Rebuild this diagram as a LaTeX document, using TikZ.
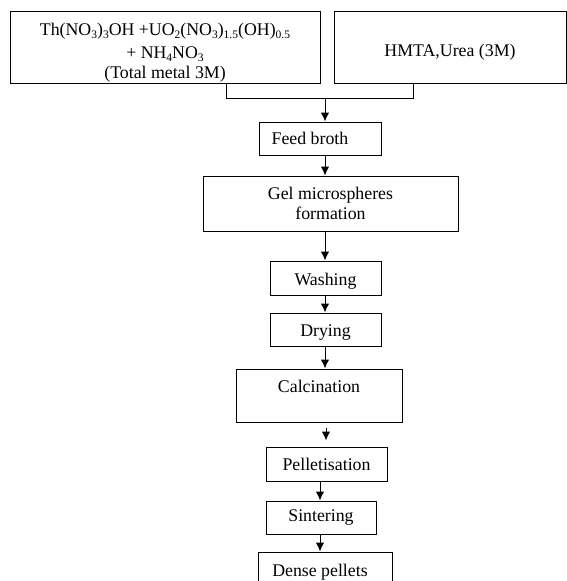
\documentclass[tikz,border=0pt]{standalone}
\usepackage{fontspec}
\setmainfont{Liberation Serif}
\usetikzlibrary{arrows.meta}
\newcommand\chsub[1]{\raisebox{-0.35ex}{\fontsize{11.5}{12}\selectfont #1}}
\begin{document}
\begin{tikzpicture}[x=1pt,y=-1pt,
  box/.style={draw, line width=1pt, inner sep=0pt, align=center, font=\fontsize{17.8}{20}\selectfont},
  flow/.style={line width=1pt, -{Latex[length=9pt,width=8.5pt]}},
  link/.style={line width=1pt}]
\useasboundingbox (0,0) rectangle (567,581);
\clip (0,0) rectangle (567,581);
\node[box, minimum width=310, minimum height=72] (src) at (165,47)
  {\rule{0pt}{24pt}Th(NO\chsub{3})\chsub{3}OH +UO\chsub{2}(NO\chsub{3})\chsub{1.5}(OH)\chsub{0.5}\\[3pt] + NH\chsub{4}NO\chsub{3}\\ (Total metal 3M)};
\node[box, minimum width=232, minimum height=72] (reag) at (450,47) {\rule{0pt}{23pt}HMTA,Urea (3M)};
\node[box, minimum width=122, minimum height=33] (feed) at (320,138.5) {Feed broth\hspace*{20pt}};
\node[box, minimum width=255, minimum height=55] (gel) at (330.5,203.5) {Gel microspheres\\formation};
\node[box, minimum width=111, minimum height=34] (wash) at (325.5,278) {\rule{0pt}{18pt}Washing};
\node[box, minimum width=111, minimum height=33] (dry) at (325.5,329.5) {\rule{0pt}{18pt}Drying};
\node[box, minimum width=166, minimum height=53] (calc) at (319,395.5) {Calcination\\[-2pt]\mbox{}};
\node[box, minimum width=121, minimum height=34] (pel) at (326.5,464) {Pelletisation};
\node[box, minimum width=110, minimum height=33] (sin) at (321,517.5) {Sintering};
\node[box, minimum width=134, minimum height=34] (dense) at (325,569) {\rule{0pt}{19pt}Dense pellets\hspace*{10pt}};
\coordinate (bl) at (226,98);
\coordinate (br) at (413,98);
\coordinate (j) at (325,98);
\coordinate (c1) at (326,428);
\coordinate (s) at (320,500);
\draw[link] (src.south -| bl) -- (bl) -- (br) -- (reag.south -| br);
\draw[flow] (j) -- (j |- feed.north);
\draw[flow] (feed.south -| j) -- (gel.north -| j);
\draw[flow] (gel.south -| j) -- (wash.north -| j);
\draw[flow] (wash.south -| j) -- (dry.north -| j);
\draw[flow] (dry.south -| j) -- (calc.north -| j);
\draw[flow, shorten >=6pt] (c1) -- (c1 |- pel.north);
\draw[flow] (pel.south -| s) -- (sin.north -| s);
\draw[flow] (sin.south -| s) -- (dense.north -| s);
\end{tikzpicture}
\end{document}
